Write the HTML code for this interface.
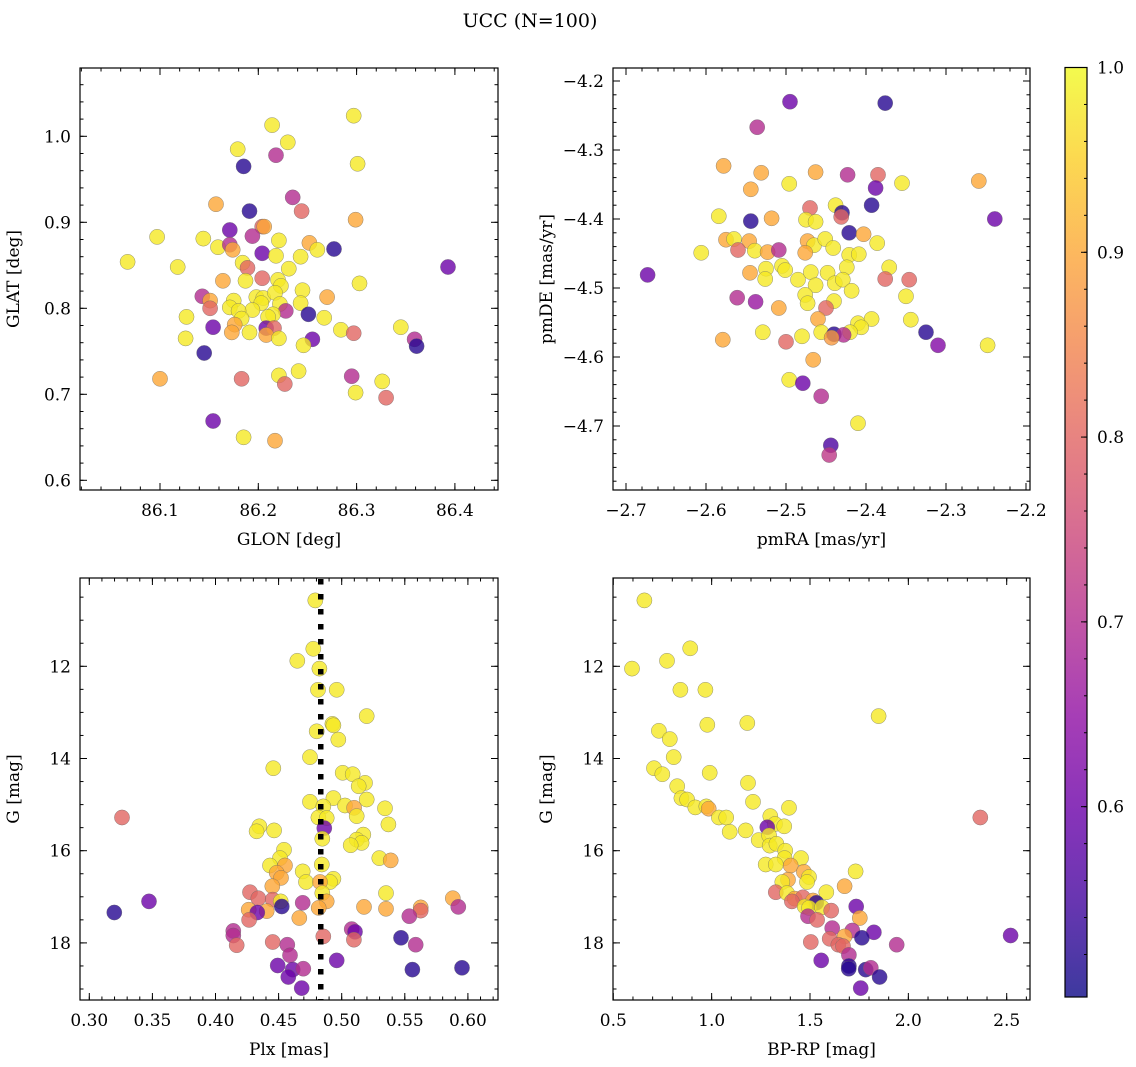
<!DOCTYPE html>
<html><head><meta charset="utf-8"><style>
html,body{margin:0;padding:0;background:#fff;}
svg{display:block;font-family:"DejaVu Serif","Liberation Serif",serif;}
</style></head><body>
<svg id="fig" width="1136" height="1067" viewBox="0 0 1136 1067" xmlns="http://www.w3.org/2000/svg">
<text x="530" y="27" font-size="19" text-anchor="middle">UCC (N=100)</text>
</svg>
<script>
// ---- Panel 1: GLON / GLAT ----
const p1_glon=[86.297,86.214,86.230,86.179,86.218,86.185,86.301,86.235,86.157,86.244,86.191,86.299,86.171,86.204,86.206,86.194,86.097,86.144,86.221,86.159,86.171,86.174,86.252,86.260,86.277,86.204,86.218,86.243,86.067,86.393,86.118,86.184,86.189,86.231,86.204,86.164,86.187,86.220,86.223,86.303,86.245,86.270,86.143,86.151,86.151,86.175,86.198,86.205,86.203,86.217,86.222,86.243,86.171,86.194,86.228,86.215,86.180,86.251,86.127,86.183,86.210,86.267,86.154,86.208,86.216,86.176,86.345,86.173,86.191,86.284,86.297,86.208,86.221,86.126,86.255,86.246,86.359,86.361,86.145,86.241,86.221,86.227,86.183,86.100,86.295,86.326,86.299,86.330,86.154,86.185,86.217];
const p1_glat=[1.024,1.013,0.993,0.985,0.978,0.965,0.968,0.929,0.921,0.913,0.913,0.903,0.891,0.895,0.895,0.884,0.883,0.881,0.879,0.871,0.874,0.868,0.876,0.868,0.869,0.864,0.861,0.860,0.854,0.848,0.848,0.853,0.847,0.846,0.835,0.832,0.832,0.833,0.826,0.829,0.821,0.813,0.814,0.809,0.800,0.809,0.813,0.812,0.806,0.818,0.805,0.806,0.801,0.798,0.797,0.793,0.797,0.793,0.790,0.788,0.790,0.789,0.778,0.777,0.777,0.781,0.778,0.772,0.772,0.775,0.771,0.769,0.765,0.765,0.764,0.757,0.764,0.756,0.748,0.727,0.722,0.712,0.718,0.718,0.721,0.715,0.702,0.696,0.669,0.650,0.646];
const p1_prob=[.98,.98,.98,.98,.7,.52,.98,.7,.9,.8,.52,.9,.6,.8,.9,.7,.98,.98,.98,.98,.7,.9,.9,.98,.52,.6,.98,.98,.98,.6,.98,.98,.8,.98,.8,.9,.98,.98,.98,.98,.98,.9,.7,.9,.8,.98,.98,.98,.98,.98,.98,.98,.98,.98,.7,.98,.98,.52,.98,.98,.98,.98,.6,.6,.8,.9,.98,.9,.98,.98,.8,.9,.98,.98,.6,.98,.7,.52,.52,.98,.98,.8,.8,.9,.7,.98,.98,.8,.6,.98,.9];
const p1_xticks=[86.1,86.2,86.3,86.4];
const p1_yticks=[0.6,0.7,0.8,0.9,1.0];
// ---- Panel 2: pmRA / pmDE ----
const p2_pmra=[-2.495,-2.376,-2.536,-2.578,-2.531,-2.463,-2.423,-2.385,-2.259,-2.496,-2.355,-2.388,-2.544,-2.393,-2.470,-2.438,-2.430,-2.431,-2.584,-2.544,-2.518,-2.475,-2.463,-2.239,-2.421,-2.403,-2.386,-2.575,-2.565,-2.546,-2.560,-2.539,-2.523,-2.509,-2.606,-2.473,-2.465,-2.451,-2.441,-2.476,-2.421,-2.409,-2.673,-2.545,-2.525,-2.505,-2.501,-2.526,-2.485,-2.469,-2.448,-2.424,-2.371,-2.463,-2.439,-2.429,-2.376,-2.346,-2.418,-2.561,-2.538,-2.476,-2.473,-2.440,-2.350,-2.509,-2.450,-2.460,-2.344,-2.410,-2.393,-2.406,-2.420,-2.456,-2.440,-2.428,-2.443,-2.529,-2.480,-2.579,-2.500,-2.325,-2.310,-2.248,-2.466,-2.496,-2.479,-2.456,-2.410,-2.444,-2.446];
const p2_pmde=[-4.230,-4.232,-4.267,-4.323,-4.333,-4.332,-4.336,-4.336,-4.345,-4.349,-4.348,-4.355,-4.357,-4.380,-4.384,-4.380,-4.391,-4.397,-4.396,-4.403,-4.399,-4.401,-4.404,-4.400,-4.420,-4.422,-4.435,-4.430,-4.429,-4.432,-4.445,-4.446,-4.448,-4.445,-4.449,-4.432,-4.438,-4.429,-4.442,-4.449,-4.452,-4.451,-4.481,-4.478,-4.472,-4.468,-4.474,-4.487,-4.488,-4.477,-4.478,-4.470,-4.470,-4.496,-4.493,-4.488,-4.487,-4.488,-4.504,-4.514,-4.520,-4.510,-4.522,-4.519,-4.512,-4.529,-4.529,-4.545,-4.546,-4.551,-4.545,-4.557,-4.564,-4.564,-4.567,-4.568,-4.572,-4.564,-4.570,-4.575,-4.578,-4.564,-4.583,-4.583,-4.604,-4.633,-4.638,-4.657,-4.696,-4.728,-4.742];
const p2_prob=[.6,.52,.7,.9,.9,.9,.7,.8,.9,.98,.98,.6,.9,.52,.8,.98,.52,.8,.98,.52,.9,.98,.98,.6,.52,.9,.98,.9,.98,.9,.8,.98,.9,.7,.98,.9,.98,.98,.98,.9,.98,.98,.6,.9,.98,.98,.98,.98,.98,.98,.98,.98,.98,.98,.98,.98,.8,.8,.98,.7,.66,.98,.98,.98,.98,.9,.8,.9,.98,.98,.98,.98,.98,.98,.52,.7,.88,.98,.98,.9,.8,.52,.63,.98,.9,.98,.6,.7,.98,.56,.72];
const p2_xticks=[-2.7,-2.6,-2.5,-2.4,-2.3,-2.2];
const p2_yticks=[-4.7,-4.6,-4.5,-4.4,-4.3,-4.2];
// ---- Panel 3: Plx / G ----
const p3_plx=[0.4791,0.4775,0.4648,0.4823,0.4812,0.4960,0.5198,0.4926,0.4934,0.4802,0.4973,0.4749,0.4458,0.5008,0.5087,0.5185,0.5135,0.4749,0.4934,0.5198,0.4854,0.5026,0.5098,0.5119,0.5343,0.5370,0.4815,0.4881,0.3259,0.4347,0.4326,0.4464,0.4862,0.4846,0.5171,0.5119,0.5158,0.5071,0.4543,0.4511,0.4432,0.4551,0.5298,0.5388,0.4842,0.4691,0.4485,0.4519,0.4717,0.4934,0.4907,0.4828,0.4450,0.5351,0.4846,0.4273,0.4339,0.4453,0.4517,0.4881,0.4691,0.3473,0.5880,0.5924,0.4525,0.4818,0.5177,0.5351,0.5626,0.5626,0.4263,0.4406,0.4331,0.3198,0.4664,0.4266,0.5536,0.4141,0.4141,0.5079,0.5105,0.5097,0.4854,0.5470,0.4168,0.4453,0.4569,0.5586,0.4590,0.4960,0.4493,0.4612,0.4696,0.5560,0.5953,0.4577,0.4683];
const p3_g=[10.57,11.62,11.88,12.05,12.51,12.51,13.08,13.25,13.28,13.41,13.59,13.97,14.21,14.31,14.34,14.53,14.60,14.94,14.86,14.89,15.04,15.02,15.07,15.25,15.08,15.43,15.28,15.29,15.28,15.47,15.58,15.56,15.51,15.74,15.65,15.76,15.83,15.88,15.98,16.16,16.32,16.32,16.16,16.21,16.30,16.45,16.48,16.59,16.68,16.61,16.68,16.68,16.77,16.92,16.92,16.90,17.03,17.06,17.10,17.10,17.13,17.10,17.03,17.22,17.21,17.24,17.22,17.26,17.23,17.30,17.28,17.31,17.34,17.34,17.46,17.50,17.42,17.74,17.84,17.70,17.76,17.93,17.86,17.89,18.05,17.98,18.04,18.04,18.27,18.38,18.49,18.58,18.56,18.58,18.54,18.74,18.98];
const p3_prob=[.98,.98,.98,.98,.98,.98,.98,.98,.98,.98,.98,.98,.98,.98,.98,.98,.98,.98,.98,.98,.98,.98,.9,.98,.98,.98,.98,.98,.8,.98,.98,.98,.6,.98,.98,.98,.98,.98,.98,.98,.98,.9,.98,.9,.98,.98,.9,.9,.98,.98,.98,.9,.9,.98,.98,.8,.8,.8,.98,.9,.7,.6,.9,.7,.52,.9,.9,.9,.9,.8,.9,.9,.6,.52,.9,.8,.7,.7,.7,.7,.6,.8,.8,.52,.8,.8,.7,.7,.7,.6,.6,.6,.7,.52,.52,.6,.6];
const p3_xticks=[0.30,0.35,0.40,0.45,0.50,0.55,0.60];
const p3_yticks=[12,14,16,18];
const p3_plxMedian=0.4834;
// ---- Panel 4: BP-RP / G ----
const p4_bprp=[0.658,0.595,0.891,0.773,0.841,0.968,0.978,1.181,1.849,0.732,0.787,0.807,0.707,0.749,0.990,1.185,0.825,0.846,0.875,0.917,0.973,0.985,1.210,1.393,1.037,1.074,1.298,1.322,1.283,1.369,1.092,1.173,1.239,1.292,1.295,1.329,1.374,1.371,1.454,1.275,1.326,1.402,1.732,1.469,1.495,1.485,1.388,1.359,1.676,1.583,1.326,1.383,1.422,1.464,1.408,1.515,1.532,1.473,1.495,1.561,1.608,1.735,1.753,1.490,1.536,1.613,1.715,1.825,2.520,2.366,1.600,1.676,1.764,1.504,1.644,1.668,1.941,1.698,1.557,1.698,1.697,1.783,1.809,1.854,1.758];
const p4_g=[10.57,12.05,11.61,11.88,12.51,12.51,13.27,13.23,13.08,13.40,13.58,13.97,14.21,14.34,14.31,14.53,14.60,14.86,14.89,15.06,15.04,15.09,14.94,15.07,15.28,15.28,15.25,15.42,15.49,15.47,15.59,15.56,15.77,15.67,15.89,15.85,16.00,16.16,16.16,16.30,16.30,16.32,16.45,16.46,16.57,16.68,16.63,16.68,16.77,16.90,16.90,16.92,17.04,17.01,17.10,17.08,17.13,17.21,17.24,17.23,17.30,17.21,17.46,17.42,17.50,17.68,17.73,17.77,17.84,15.28,17.91,17.86,17.89,17.98,18.04,18.07,18.04,18.26,18.38,18.50,18.56,18.58,18.54,18.74,18.98];
const p4_prob=[.98,.98,.98,.98,.98,.98,.98,.98,.98,.98,.98,.98,.98,.98,.98,.98,.98,.98,.98,.98,.98,.9,.98,.98,.98,.98,.98,.98,.6,.98,.98,.98,.98,.98,.98,.98,.98,.98,.98,.98,.98,.9,.98,.9,.98,.98,.9,.98,.9,.98,.8,.98,.9,.8,.8,.9,.52,.98,.98,.98,.8,.6,.9,.7,.8,.7,.7,.6,.6,.8,.8,.9,.52,.8,.8,.8,.7,.7,.6,.52,.52,.52,.7,.52,.6];
const p4_xticks=[0.5,1.0,1.5,2.0,2.5];
const p4_yticks=[12,14,16,18];
const cb_ticks=[0.6,0.7,0.8,0.9,1.0];

const NS="http://www.w3.org/2000/svg";
const svg=document.getElementById('fig');
function mk(tag,attrs,parent){const e=document.createElementNS(NS,tag);for(const k in attrs)e.setAttribute(k,attrs[k]);(parent||svg).appendChild(e);return e;}
const stops=[[13,8,135],[65,4,157],[106,0,168],[143,13,164],[177,42,144],[204,71,120],[225,100,98],[242,132,75],[252,166,54],[252,206,37],[240,249,33]];
function plasma(t){t=Math.max(0,Math.min(1,t));const f=t*10,i=Math.min(9,Math.floor(f)),r=f-i;const a=stops[i],b=stops[i+1];return 'rgb('+a.map((v,k)=>Math.round(v+(b[k]-v)*r)).join(',')+')';}
const VMIN=0.497,VMAX=1.0;
function col(p){return plasma((p-VMIN)/(VMAX-VMIN));}

function panel(o){
  const {name,x0,x1,y0,y1,xmin,xmax,ymin,ymax,xticks,yticks,xminor,yminor,xdec,ydec,xlabel,ylabel,xs,ys,ps,invert}=o;
  const sx=v=>x0+(v-xmin)/(xmax-xmin)*(x1-x0);
  const sy=v=>invert? y0+(v-ymin)/(ymax-ymin)*(y1-y0) : y1-(v-ymin)/(ymax-ymin)*(y1-y0);
  const g=mk('g',{});
  
  
  const cid='clip-'+name;
  const cp=mk('clipPath',{id:cid},g);mk('rect',{x:x0,y:y0,width:x1-x0,height:y1-y0},cp);
  const pts=mk('g',{'clip-path':'url(#'+cid+')'},g);
  
  
  for(let i=0;i<xs.length;i++){
    const c=mk('circle',{cx:sx(xs[i]).toFixed(1),cy:sy(ys[i]).toFixed(1),r:7.6,fill:col(ps[i]),'fill-opacity':0.8,stroke:'#666','stroke-width':0.5,'stroke-opacity':0.7},pts);
    
    
  }
  o.after && o.after(g,sx,sy,cid);
  const tk=mk('g',{stroke:'#000','stroke-width':1},g);
  const lo=Math.min(xmin,xmax),hi=Math.max(xmin,xmax);
  for(let v=Math.ceil(lo/xminor-1e-6)*xminor;v<=hi+1e-9;v+=xminor){const X=sx(v);if(X<x0+0.5||X>x1-0.5)continue;
    mk('line',{x1:X,x2:X,y1:y1,y2:y1-3.5},tk);mk('line',{x1:X,x2:X,y1:y0,y2:y0+3.5},tk);}
  const ylo=Math.min(ymin,ymax),yhi=Math.max(ymin,ymax);
  for(let v=Math.ceil(ylo/yminor-1e-6)*yminor;v<=yhi+1e-9;v+=yminor){const Y=sy(v);if(Y<y0+0.5||Y>y1-0.5)continue;
    mk('line',{x1:x0,x2:x0+3.5,y1:Y,y2:Y},tk);mk('line',{x1:x1,x2:x1-3.5,y1:Y,y2:Y},tk);}
  xticks.forEach(v=>{const X=sx(v);mk('line',{x1:X,x2:X,y1:y1,y2:y1-7},tk);mk('line',{x1:X,x2:X,y1:y0,y2:y0+7},tk);
    const t=mk('text',{x:X,y:y1+26,'font-size':17,'text-anchor':'middle'},g);t.textContent=v.toFixed(xdec).replace('-','\u2212');
    
    });
  yticks.forEach(v=>{const Y=sy(v);mk('line',{x1:x0,x2:x0+7,y1:Y,y2:Y},tk);mk('line',{x1:x1,x2:x1-7,y1:Y,y2:Y},tk);
    const t=mk('text',{x:x0-9,y:Y+6,'font-size':17,'text-anchor':'end'},g);t.textContent=v.toFixed(ydec).replace('-','\u2212');
    
    });
  mk('rect',{x:x0,y:y0,width:x1-x0,height:y1-y0,fill:'none',stroke:'#000','stroke-width':1.2},g);
  const xl=mk('text',{x:(x0+x1)/2,y:y1+55,'font-size':17,'text-anchor':'middle'},g);xl.textContent=xlabel;
  
  
  const yx=x0-61,yc=(y0+y1)/2;
  const yl=mk('text',{x:yx,y:yc,'font-size':17,'text-anchor':'middle',transform:'rotate(-90 '+yx+' '+yc+')'},g);yl.textContent=ylabel;
  
  
}

panel({name:'glon-glat-panel',x0:80,x1:498,y0:68,y1:490,xmin:86.1-80/983,xmax:86.1+338/983,ymin:1.0-(490-136.3)/860,ymax:1.0+(136.3-68)/860,
  xticks:p1_xticks,yticks:p1_yticks,xminor:0.02,yminor:0.02,xdec:1,ydec:1,xlabel:'GLON [deg]',ylabel:'GLAT [deg]',xs:p1_glon,ys:p1_glat,ps:p1_prob});
panel({name:'pm-panel',x0:613,x1:1030,y0:68,y1:490,xmin:-2.7-13/800,xmax:-2.7+404/800,ymin:-4.2-(490-81)/690,ymax:-4.2+13/690,
  xticks:p2_xticks,yticks:p2_yticks,xminor:0.02,yminor:0.02,xdec:1,ydec:1,xlabel:'pmRA [mas/yr]',ylabel:'pmDE [mas/yr]',xs:p2_pmra,ys:p2_pmde,ps:p2_prob});
panel({name:'plx-g-panel',x0:80,x1:498,y0:578,y1:1000,xmin:0.30-9.3/1262,xmax:0.30+408.7/1262,ymin:12-88.3/46.1,ymax:12+333.7/46.1,invert:true,
  xticks:p3_xticks,yticks:p3_yticks,xminor:0.01,yminor:0.5,xdec:2,ydec:0,xlabel:'Plx [mas]',ylabel:'G [mag]',xs:p3_plx,ys:p3_g,ps:p3_prob,
  after:(g,sx,sy,cid)=>{const X=sx(p3_plxMedian);const l=mk('line',{x1:X,x2:X,y1:578,y2:1000,stroke:'#000','stroke-width':5.5,'stroke-dasharray':'5.5 9.5','stroke-dashoffset':-1,'clip-path':'url(#'+cid+')'},g);
    
    }});
panel({name:'cmd-panel',x0:613,x1:1030,y0:578,y1:1000,xmin:0.5-0.3/196.7,xmax:0.5+416.7/196.7,ymin:12-88.3/46.1,ymax:12+333.7/46.1,invert:true,
  xticks:p4_xticks,yticks:p4_yticks,xminor:0.1,yminor:0.5,xdec:1,ydec:0,xlabel:'BP-RP [mag]',ylabel:'G [mag]',xs:p4_bprp,ys:p4_g,ps:p4_prob});

(function(){
  const cx0=1065,cx1=1087,cy0=67.5,cy1=997;
  const g=mk('g',{});
  
  
  const defs=mk('defs',{},g);
  const lg=mk('linearGradient',{id:'cbgrad',x1:0,y1:1,x2:0,y2:0},defs);
  for(let i=0;i<=20;i++){mk('stop',{offset:(i/20),'stop-color':plasma(i/20)},lg);}
  mk('rect',{x:cx0,y:cy0,width:cx1-cx0,height:cy1-cy0,fill:'url(#cbgrad)','fill-opacity':0.8},g);
  const sy=v=>cy1-(v-VMIN)/(VMAX-VMIN)*(cy1-cy0);
  for(let v=0.52;v<1.0;v+=0.02){const Y=sy(v);mk('line',{x1:cx1,x2:cx1-3,y1:Y,y2:Y,stroke:'#000','stroke-width':1},g);}
  cb_ticks.forEach(v=>{const Y=sy(v);mk('line',{x1:cx1,x2:cx1-6,y1:Y,y2:Y,stroke:'#000','stroke-width':1},g);
    const t=mk('text',{x:cx1+10,y:Y+6,'font-size':17},g);t.textContent=v.toFixed(1);
    
    });
  mk('rect',{x:cx0,y:cy0,width:cx1-cx0,height:cy1-cy0,fill:'none',stroke:'#000','stroke-width':1.2},g);
})();
</script>
</body></html>
